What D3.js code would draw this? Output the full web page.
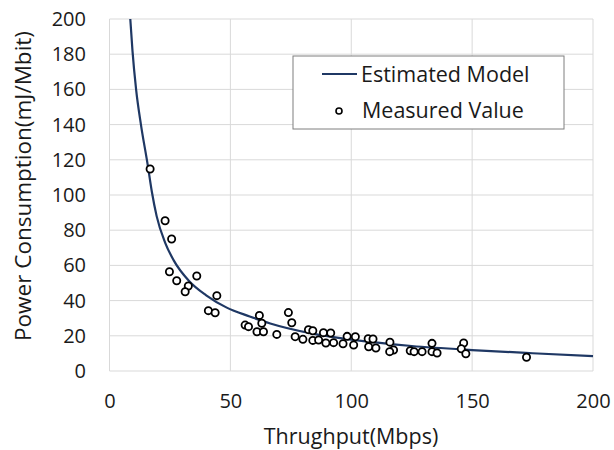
<!DOCTYPE html>
<html>
<head>
<meta charset="utf-8">
<script src="https://cdn.jsdelivr.net/npm/d3@7.9.0/dist/d3.min.js"></script>
<style>
  body { margin: 0; background: #fff; }
  text { font-family: "Open Sans", sans-serif; fill: #1a1a1a; }
</style>
</head>
<body>
<svg id="chart" width="614" height="450"></svg>
<script>
// ticks
const xTicks = [0, 50, 100, 150, 200];
const yTicks = [0, 20, 40, 60, 80, 100, 120, 140, 160, 180, 200];

// estimated model curve
const modelX = [8.6, 9.5, 11, 13, 15.7, 17.5, 19.5, 23, 26.5, 33, 40, 48.5, 58, 66.5, 83, 100, 125, 150, 175, 200];
const modelY = [200, 182, 160, 140, 118, 102, 88, 73, 63, 51, 43, 36, 31, 27, 21.5, 17.8, 14.2, 11.9, 10.1, 8.5];

// measured values
const measX = [16.8, 23.0, 25.7, 24.8, 27.8, 36.1, 32.6, 31.3, 44.4, 40.9, 43.7,
  56.1, 57.5, 62.0, 63.0, 61.0, 63.7, 69.2, 74.0, 75.4, 76.8, 80.0, 82.3, 84.1,
  84.1, 86.5, 88.5, 91.5, 89.5, 92.7, 96.6, 98.3, 101.7, 101.0, 107.0, 109.0,
  107.2, 110.2, 116.0, 117.5, 115.9, 124.4, 126.0, 129.3, 133.4, 133.4, 135.5,
  146.5, 145.5, 147.4, 172.5];
const measY = [114.8, 85.4, 75.0, 56.4, 51.3, 54.0, 48.3, 45.0, 42.8, 34.3, 33.1,
  26.1, 25.2, 31.6, 27.1, 22.3, 22.3, 20.8, 33.2, 27.4, 19.5, 18.0, 23.5, 22.9,
  17.4, 17.6, 21.8, 21.6, 15.9, 16.1, 15.5, 19.7, 19.5, 14.8, 18.3, 18.2,
  13.8, 13.1, 16.4, 11.9, 11.0, 11.5, 11.0, 11.0, 15.7, 11.0, 10.2,
  15.9, 12.6, 9.8, 7.8];

const svg = d3.select("#chart");

const xScale = d3.scaleLinear().domain([0, 200]).range([109.5, 593]);
const yScale = d3.scaleLinear().domain([0, 200]).range([371, 19]);

// gridlines
const grid = svg.append("g");
grid.selectAll(".hgrid")
  .data(yTicks)
  .enter()
  .append("line")
  .attr("x1", xScale(0)).attr("x2", xScale(200))
  .attr("y1", d => yScale(d)).attr("y2", d => yScale(d))
  .attr("stroke", "#d9d9d9").attr("stroke-width", 1);
grid.selectAll(".vgrid")
  .data(xTicks)
  .enter()
  .append("line")
  .attr("y1", yScale(0)).attr("y2", yScale(200))
  .attr("x1", d => xScale(d)).attr("x2", d => xScale(d))
  .attr("stroke", "#d9d9d9").attr("stroke-width", 1);

// axes (labels only)
const yAxis = svg.append("g")
  .attr("transform", "translate(86,0)")
  .call(d3.axisLeft(yScale).tickValues(yTicks).tickSize(0).tickPadding(0));
yAxis.select(".domain").remove();
yAxis.selectAll("text").style("font-size", "20px").attr("fill", "#1a1a1a")
  .style("font-family", "Open Sans");

const xAxis = svg.append("g")
  .attr("transform", "translate(0,394)")
  .call(d3.axisBottom(xScale).tickValues(xTicks).tickSize(0).tickPadding(0));
xAxis.select(".domain").remove();
xAxis.selectAll("text").style("font-size", "20px").attr("fill", "#1a1a1a")
  .style("font-family", "Open Sans");

// axis titles
svg.append("text")
  .attr("x", 351).attr("y", 444)
  .attr("text-anchor", "middle")
  .style("font-size", "21.5px")
  .text("Thrughput(Mbps)");

svg.append("text")
  .attr("transform", "translate(31,186) rotate(-90)")
  .attr("text-anchor", "middle")
  .style("font-size", "22.5px")
  .text("Power Consumption(mJ/Mbit)");

// model curve
const modelData = modelX.map((x, i) => ({ x: x, y: modelY[i] }));
const line = d3.line()
  .x(d => xScale(d.x))
  .y(d => yScale(d.y))
  .curve(d3.curveMonotoneX);

svg.append("path")
  .datum(modelData)
  .attr("d", line)
  .attr("fill", "none")
  .attr("stroke", "#1f3864")
  .attr("stroke-width", 2.2);

// measured points
const measData = measX.map((x, i) => ({ x: x, y: measY[i] }));
svg.selectAll(".point")
  .data(measData)
  .enter()
  .append("circle")
  .attr("class", "point")
  .attr("cx", d => xScale(d.x))
  .attr("cy", d => yScale(d.y))
  .attr("r", 3.6)
  .attr("fill", "#fff")
  .attr("stroke", "#000")
  .attr("stroke-width", 1.8);

// legend
const legend = svg.append("g");
legend.append("rect")
  .attr("x", 293).attr("y", 56)
  .attr("width", 271).attr("height", 73)
  .attr("fill", "#fff")
  .attr("stroke", "#7f7f7f")
  .attr("stroke-width", 1);
legend.append("line")
  .attr("x1", 322).attr("x2", 357)
  .attr("y1", 74).attr("y2", 74)
  .attr("stroke", "#1f3864").attr("stroke-width", 2.2);
legend.append("text")
  .attr("x", 361).attr("y", 82)
  .style("font-size", "21.5px")
  .text("Estimated Model");
legend.append("circle")
  .attr("cx", 339).attr("cy", 111)
  .attr("r", 3)
  .attr("fill", "#fff")
  .attr("stroke", "#000")
  .attr("stroke-width", 1.6);
legend.append("text")
  .attr("x", 362).attr("y", 118)
  .style("font-size", "21.5px")
  .text("Measured Value");
</script>
</body>
</html>
